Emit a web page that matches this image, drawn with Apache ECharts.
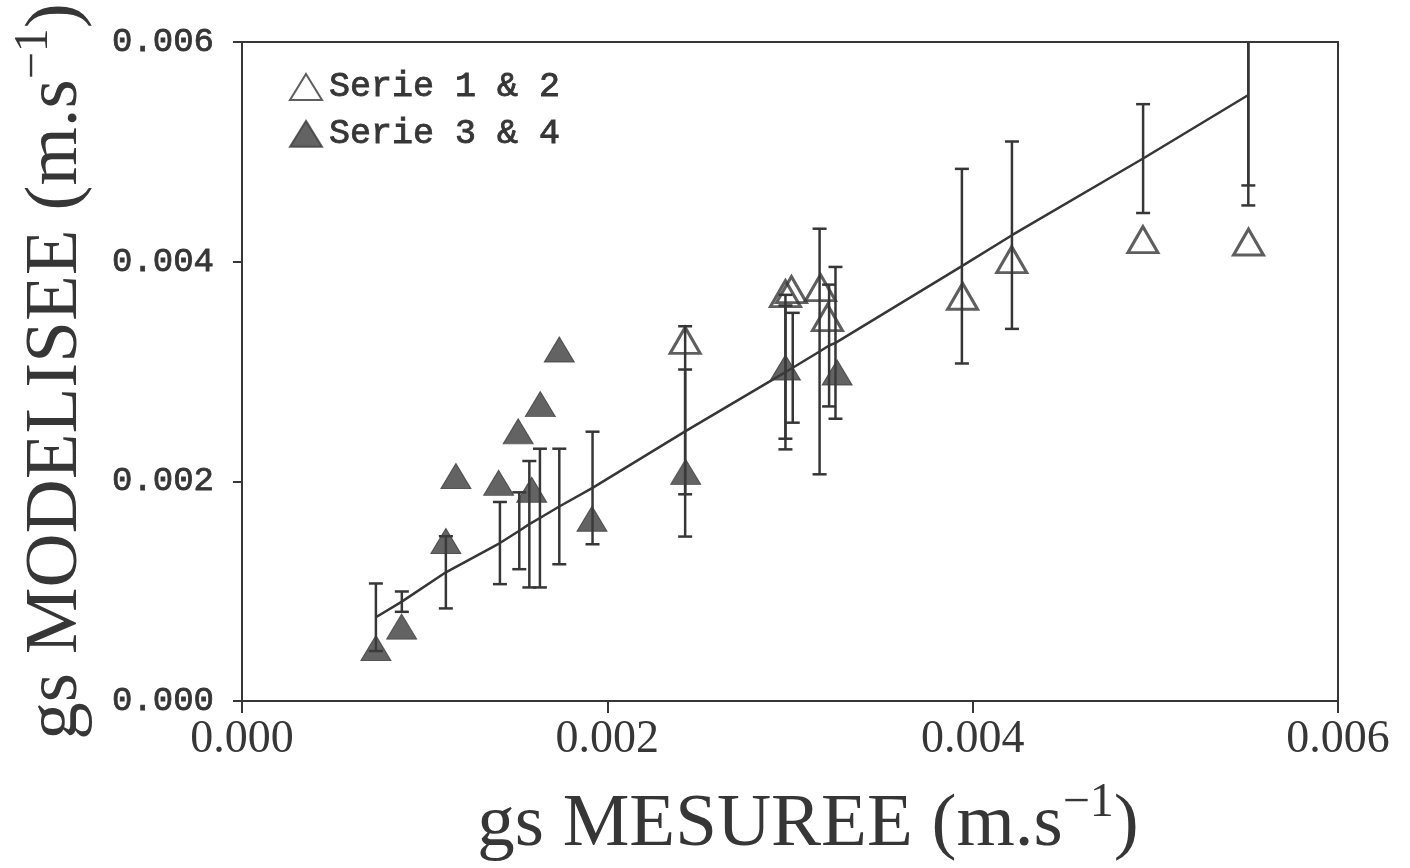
<!DOCTYPE html>
<html>
<head>
<meta charset="utf-8">
<script src="https://cdn.jsdelivr.net/npm/echarts@6/dist/echarts.min.js"></script>
<style>
html,body{margin:0;padding:0;background:#fff;}
#chart{width:1410px;height:868px;}
</style>
</head>
<body>
<div id="chart"></div>
<script>
// Serie 1 & 2 (open triangles)
const openX = [0.002426, 0.002975, 0.003008, 0.003167, 0.003205, 0.003945, 0.004214, 0.004932, 0.005510];
const openY = [0.003284, 0.003709, 0.003745, 0.003764, 0.003491, 0.003685, 0.004018, 0.004200, 0.004179];
// Serie 3 & 4 (filled triangles)
const filledX = [0.000733, 0.000874, 0.001116, 0.001171, 0.001405, 0.001512, 0.001586, 0.001633, 0.001737, 0.001916, 0.002429, 0.002975, 0.003258];
const filledY = [0.000482, 0.000677, 0.001457, 0.002048, 0.001986, 0.002455, 0.001923, 0.002703, 0.003200, 0.001659, 0.002086, 0.003036, 0.002991];
// Error bars (low / high) around the model line
const errX    = [0.000733, 0.000875, 0.001116, 0.001412, 0.001518, 0.001573, 0.001631, 0.001737, 0.001919, 0.002426, 0.002426, 0.002975, 0.002975, 0.003015, 0.003162, 0.003214, 0.003249, 0.003941, 0.004215, 0.004933, 0.005509, 0.005509];
const errLow  = [0.000455, 0.000812, 0.000843, 0.001064, 0.001200, 0.001034, 0.001034, 0.001245, 0.001427, 0.001497, 0.001882, 0.002291, 0.002388, 0.002534, 0.002064, 0.002682, 0.002570, 0.003073, 0.003388, 0.004443, 0.004694, 0.004512];
const errHigh = [0.001070, 0.000997, 0.001500, 0.001812, 0.001900, 0.002185, 0.002297, 0.002297, 0.002452, 0.003412, 0.003018, 0.003698, 0.003601, 0.003534, 0.004300, 0.003791, 0.003952, 0.004845, 0.005094, 0.005434, 0.006340, 0.006520];
// Model line
const lineX = [0.000733, 0.000875, 0.001116, 0.001412, 0.001518, 0.001573, 0.001631, 0.001737, 0.001919, 0.002426, 0.002975, 0.003015, 0.003162, 0.003214, 0.003249, 0.003941, 0.004215, 0.004933, 0.005509];
const lineY = [0.000763, 0.000905, 0.001172, 0.001438, 0.001550, 0.001610, 0.001666, 0.001771, 0.001940, 0.002455, 0.002995, 0.003034, 0.003182, 0.003237, 0.003261, 0.003959, 0.004241, 0.004939, 0.005517];
const axisTicks = [0, 0.002, 0.004, 0.006];
const seriesNames = ['Serie 1 & 2', 'Serie 3 & 4'];
const xTitle = 'gs MESUREE (m.s';
const yTitle = 'gs MODELISEE (m.s';

const ink = '#363636';
const chart = echarts.init(document.getElementById('chart'), null, {renderer: 'canvas'});

const titleRich = {
  main: {fontFamily: 'Liberation Serif', fontSize: 75, lineHeight: 92, color: ink},
  sup: {fontFamily: 'Liberation Serif', fontSize: 48, lineHeight: 60, verticalAlign: 'top', color: ink}
};

const option = {
  backgroundColor: '#fff',
  animation: false,
  grid: {left: 242, right: 72, top: 42, bottom: 167, show: true, borderColor: ink, borderWidth: 2, backgroundColor: 'transparent'},
  legend: {
    orient: 'vertical', left: 284, top: 64, itemWidth: 32, itemHeight: 26, itemGap: 11,
    icon: 'triangle',
    data: seriesNames,
    textStyle: {fontFamily: 'Liberation Mono', fontSize: 35, color: ink, textBorderColor: ink, textBorderWidth: 0.9, padding: [0, 0, 0, 2]}
  },
  xAxis: {
    type: 'value', min: axisTicks[0], max: axisTicks[3], interval: 0.002,
    name: '{main|' + xTitle + '}{sup|\u22121}{main|)}',
    nameLocation: 'middle', nameGap: 78,
    nameTextStyle: {rich: titleRich, padding: [0, 0, 0, 36]},
    axisLine: {show: true, lineStyle: {color: ink, width: 2}},
    axisTick: {show: true, length: 12, lineStyle: {color: ink, width: 2}},
    axisLabel: {formatter: v => v.toFixed(3), fontFamily: 'Liberation Serif', fontSize: 46, color: ink, margin: 16},
    splitLine: {show: false}
  },
  yAxis: {
    type: 'value', min: axisTicks[0], max: axisTicks[3], interval: 0.002,
    name: '{main|' + yTitle + '}{sup|\u22121}{main|)}',
    nameLocation: 'middle', nameGap: 140, nameRotate: 90,
    nameTextStyle: {rich: titleRich},
    axisLine: {show: true, lineStyle: {color: ink, width: 2}},
    axisTick: {show: true, length: 9, lineStyle: {color: ink, width: 2}},
    axisLabel: {formatter: v => v.toFixed(3), fontFamily: 'Liberation Mono', fontSize: 34, color: ink, textBorderColor: ink, textBorderWidth: 0.8, margin: 28},
    splitLine: {show: false}
  },
  series: [
    {
      type: 'custom', name: 'err', clip: true, z: 2, silent: true,
      data: errX.map((x, i) => [x, errLow[i], errHigh[i]]),
      encode: {x: 0, y: [1, 2]},
      renderItem: function (params, api) {
        const x = api.value(0), lo = api.value(1), hi = api.value(2);
        const a = api.coord([x, lo]), b = api.coord([x, hi]);
        const w = 7, st = {stroke: ink, lineWidth: 2.5};
        return {type: 'group', children: [
          {type: 'line', shape: {x1: a[0], y1: a[1], x2: b[0], y2: b[1]}, style: st},
          {type: 'line', shape: {x1: a[0] - w, y1: a[1], x2: a[0] + w, y2: a[1]}, style: st},
          {type: 'line', shape: {x1: b[0] - w, y1: b[1], x2: b[0] + w, y2: b[1]}, style: st}
        ]};
      }
    },
    {
      type: 'line', name: 'model', z: 3, silent: true, showSymbol: false, symbol: 'none',
      data: lineX.map((x, i) => [x, lineY[i]]),
      lineStyle: {color: ink, width: 2.5}
    },
    {
      type: 'scatter', name: seriesNames[0], z: 4, symbol: 'triangle', symbolSize: [30, 26],
      data: openX.map((x, i) => [x, openY[i]]),
      itemStyle: {color: 'rgba(255,255,255,0)', borderColor: ink, borderWidth: 3}
    },
    {
      type: 'scatter', name: seriesNames[1], z: 5, symbol: 'triangle', symbolSize: [30, 25],
      data: filledX.map((x, i) => [x, filledY[i]]),
      itemStyle: {color: '#3c3c3c', borderColor: '#3c3c3c', borderWidth: 1}
    }
  ]
};
chart.setOption(option);
</script>
</body>
</html>
